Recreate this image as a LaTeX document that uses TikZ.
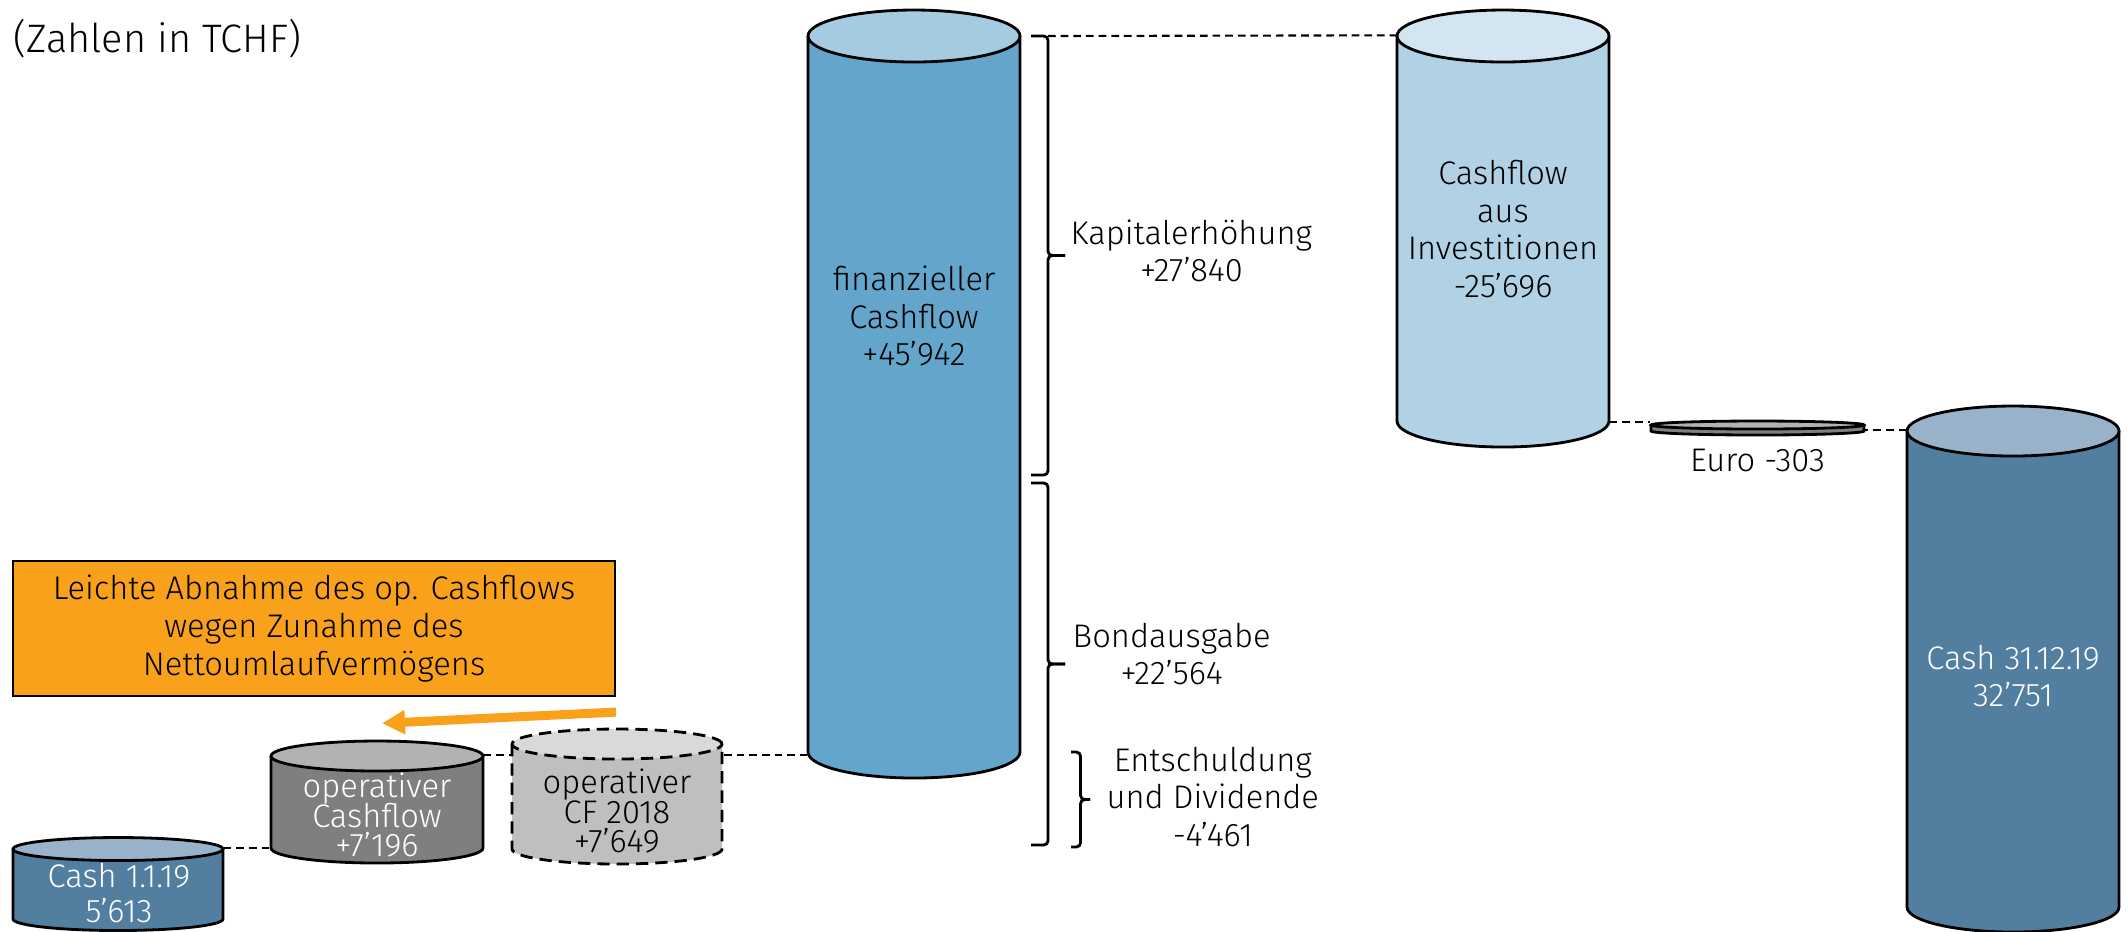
\documentclass[tikz,border=0pt]{standalone}
\usepackage{fontspec}
\IfFontExistsTF{Fira Sans Light}{\setmainfont{Fira Sans Light}}{\setmainfont{Fira Sans}}
\usetikzlibrary{arrows.meta,positioning,backgrounds}
\definecolor{finblue}{HTML}{64A5CB}
\definecolor{finbluelight}{HTML}{A5CBE1}
\definecolor{invblue}{HTML}{B1D2E5}
\definecolor{invbluelight}{HTML}{D2E5F0}
\definecolor{cashblue}{HTML}{527EA0}
\definecolor{cashbluelight}{HTML}{98B3C9}
\definecolor{grey}{HTML}{7F7F7F}
\definecolor{greylight}{HTML}{B2B2B2}
\definecolor{oldgrey}{HTML}{BFBFBF}
\definecolor{oldgreylight}{HTML}{D9D9D9}
\definecolor{accent}{HTML}{F9A11B}
\newcommand{\tightlines}{\lineskiplimit=-20pt\relax}
\tikzset{
  can/.style={draw=black,line width=0.8pt},
  conn/.style={draw=black,line width=0.6pt,dash pattern=on 2.2pt off 1.4pt},
  txt/.style={font={\fontsize{9.3}{10.7}\selectfont},align=center,inner sep=0pt},
  tight/.style={font={\fontsize{9.3}{8.5}\selectfont\tightlines}},
  bracket/.style={line width=0.8pt,rounded corners=1.2pt},
  hint/.style={-{Triangle[length=0.23cm,width=0.23cm]},line width=0.09cm,draw=accent}
}
% can: options, name, left x, right x, top y, bottom y, y radius, body, lid
\newcommand{\can}[9]{%
  \fill[#8] (#3,-#5) -- (#3,-#6) arc[start angle=180,end angle=360,x radius={(#4-#3)/2},y radius=#7] -- (#4,-#5) -- cycle;
  \draw[can,#1] (#3,-#5) -- (#3,-#6) arc[start angle=180,end angle=360,x radius={(#4-#3)/2},y radius=#7] -- (#4,-#5);
  \filldraw[can,fill=#9,#1] ({(#3+#4)/2},-#5) ellipse[x radius={(#4-#3)/2},y radius=#7];
  \node[inner sep=0pt,minimum width={(#4-#3)*1cm},minimum height={(#6-#5)*1cm}] (#2) at ({(#3+#4)/2},{-(#5+#6)/2}) {};
}

\begin{document}
\begin{tikzpicture}
\useasboundingbox (0,0) rectangle (21.28,-9.31);
\clip (0,0) rectangle (21.28,-9.31);
\node[anchor=base west,font={\fontsize{11.3}{13}\selectfont},inner sep=0pt] (unit) at (0.13,-0.52) {(Zahlen in TCHF)};

\node[txt,draw=black,line width=0.6pt,fill=accent,minimum width=6.02cm,minimum height=1.35cm] (note) at (3.14,-6.285) {Leichte Abnahme des op. Cashflows\\wegen Zunahme des\\Nettoumlaufvermögens};

\can{}{cashA}{0.13}{2.23}{8.49}{9.19}{0.115}{cashblue}{cashbluelight}
\can{}{opcf}{2.71}{4.83}{7.56}{8.48}{0.15}{grey}{greylight}
\can{dash pattern=on 3.5pt off 2pt}{cfold}{5.12}{7.22}{7.44}{8.49}{0.15}{oldgrey}{oldgreylight}
\can{}{fin}{8.08}{10.20}{0.36}{7.52}{0.26}{finblue}{finbluelight}
\can{}{inv}{13.97}{16.09}{0.36}{4.21}{0.26}{invblue}{invbluelight}
\can{}{euro}{16.51}{18.64}{4.25}{4.31}{0.04}{grey}{greylight}
\can{}{cashE}{19.07}{21.19}{4.31}{9.07}{0.25}{cashblue}{cashbluelight}

\draw[hint] ([yshift=-0.15cm]note.south east) -- ([xshift=0.05cm,yshift=0.32cm]opcf.north);

\coordinate (b1) at (10.48,-0.36);
\begin{scope}[on background layer]
\draw[conn] (cashA.north east) -- (cashA.north east -| opcf.west);
\draw[conn] (opcf.north east) -- (opcf.north east -| fin.west);
\draw[conn] (b1) -- (inv.north west);
\draw[conn] (inv.south east) -- (inv.south east -| euro.west);
\draw[conn] (cashE.north west) -- (cashE.north west -| euro.east);
\end{scope}

\foreach \x/\yt/\yb/\w in {10.31/0.36/4.75/0.17,10.31/4.83/8.45/0.17,10.71/7.52/8.47/0.095}{
  \pgfmathsetmacro\ym{-(\yt+\yb)/2}
  \draw[bracket] (\x,-\yt) -| (\x+\w,\ym) -- (\x+2*\w,\ym);
  \draw[bracket] (\x,-\yb) -| (\x+\w,\ym) -- (\x+2*\w,\ym);
}
\node[txt,anchor=west] (capital) at (10.70,-2.51) {Kapitalerhöhung\\+27’840};
\node[txt,anchor=west] (bond) at (10.72,-6.54) {Bondausgabe\\+22’564};
\node[txt,anchor=west] (debt) at (11.06,-7.97) {Entschuldung\\und Dividende\\-4’461};
\node[txt,below=0.17 of euro] (eurolabel) {Euro -303};

\node[txt] (finlabel) at (9.14,-3.16) {finanzieller\\Cashflow\\+45’942};
\node[txt] (invlabel) at (15.03,-2.29) {Cashflow\\aus\\Investitionen\\-25’696};
\node[txt,text=white] (cashElabel) at (20.13,-6.76) {Cash 31.12.19\\32’751};
\node[txt,text=white,font={\fontsize{9.3}{9.7}\selectfont}] (cashAlabel) at (1.19,-8.93) {Cash 1.1.19\\5’613};
\node[txt,tight,text=white] (opcflabel) at (3.77,-8.15) {operativer\\Cashflow\\+7’196};
\node[txt,tight] (cfoldlabel) at (6.17,-8.11) {operativer\\CF 2018\\+7’649};
\end{tikzpicture}
\end{document}
